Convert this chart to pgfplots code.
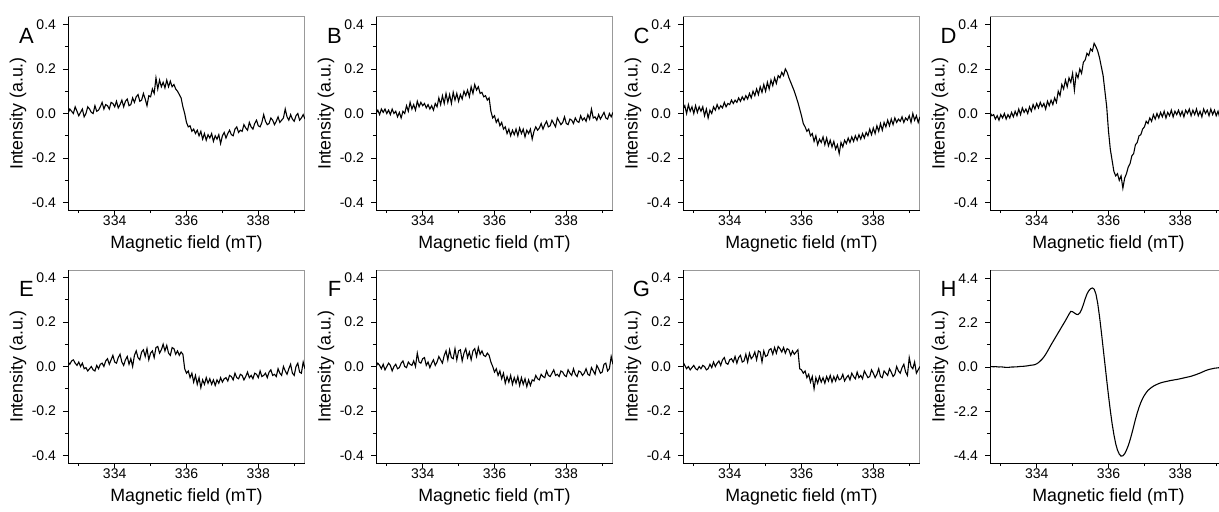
\documentclass[border=0pt]{standalone}
\usepackage{fontspec}
\setmainfont{Liberation Sans}
\usepackage{pgfplots}
\usepackage{pgfplotstable}
\pgfplotsset{compat=1.18}

% EPR spectra, panels A-H (field in mT)
\pgfplotstableread{
x A B C D E F G H
332.70 0.00 0.00 0.02 0.005 0.02 0.0 0.02 0.02
332.75 0.02 0.015 0.035 -0.01 0.01 0.015 0.005 0.02
332.80 0.01 -0.005 0.0 -0.005 0.025 0.005 -0.01 0.01
332.85 0.0 0.02 0.04 -0.025 0.03 -0.01 0.0 0.02
332.90 0.03 0.005 0.01 -0.01 0.015 0.01 -0.015 0.01
332.95 0.01 0.02 0.03 -0.03 0.005 -0.015 -0.005 0.0
333.00 -0.01 0.0 0.0 -0.005 0.02 0.0 0.005 0.01
333.05 0.005 0.015 0.035 -0.02 0.0 0.015 -0.01 0.0
333.10 0.02 -0.005 0.005 0.0 0.015 0.005 -0.015 -0.01
333.15 -0.015 0.02 0.03 -0.025 -0.01 -0.02 0.0 -0.02
333.20 0.00 0.0 0.01 -0.005 -0.005 0.0 -0.01 -0.02
333.25 0.03 0.01 0.03 -0.02 -0.02 0.01 0.005 -0.01
333.30 0.02 -0.015 -0.01 0.005 -0.01 -0.01 0.0 0.0
333.35 0.005 0.005 0.02 -0.015 0.0 -0.005 -0.015 0.0
333.40 0.0 -0.02 -0.02 0.01 -0.015 0.015 -0.01 0.01
333.45 0.035 0.01 0.015 -0.01 -0.02 0.025 0.01 0.01
333.50 0.01 0.0 0.0 0.02 0.005 0.0 -0.005 0.02
333.55 0.015 0.035 0.03 -0.005 -0.01 -0.005 0.02 0.03
333.60 0.03 0.01 0.015 0.025 0.01 0.02 0.0 0.03
333.65 0.05 0.05 0.04 0.005 0.015 0.01 0.015 0.04
333.70 0.02 0.02 0.02 0.02 0.0 0.005 0.025 0.05
333.75 0.04 0.04 0.035 0.0 0.025 0.025 0.005 0.06
333.80 0.035 0.015 0.025 0.03 0.035 0.0 0.03 0.08
333.85 0.02 0.055 0.05 0.01 0.01 0.06 0.04 0.09
333.90 0.05 0.03 0.03 0.04 0.03 0.02 0.015 0.10
333.95 0.045 0.05 0.045 0.02 0.05 0.015 0.01 0.12
334.00 0.03 0.035 0.04 0.045 0.02 0.035 0.03 0.16
334.05 0.055 0.045 0.06 0.025 0.015 0.04 0.035 0.22
334.10 0.025 0.025 0.045 0.05 0.04 0.005 0.02 0.30
334.15 0.04 0.04 0.06 0.03 0.055 0.02 0.045 0.39
334.20 0.06 0.02 0.05 0.045 0.02 -0.005 0.015 0.50
334.25 0.03 0.035 0.07 0.02 0.005 0.015 0.04 0.63
334.30 0.055 0.015 0.055 0.055 0.03 0.03 0.05 0.78
334.35 0.065 0.045 0.075 0.035 0.045 0.005 0.02 0.94
334.40 0.035 0.03 0.06 0.06 0.01 0.02 0.025 1.10
334.45 0.04 0.07 0.08 0.04 0.035 0.045 0.055 1.25
334.50 0.07 0.04 0.065 0.07 0.0 0.03 0.02 1.40
334.55 0.05 0.08 0.09 0.05 0.05 0.015 0.06 1.55
334.60 0.075 0.045 0.07 0.10 0.07 0.05 0.035 1.70
334.65 0.085 0.09 0.10 0.08 0.04 0.07 0.045 1.85
334.70 0.055 0.05 0.08 0.13 0.03 0.03 0.065 2.00
334.75 0.06 0.085 0.11 0.11 0.065 0.075 0.03 2.15
334.80 0.09 0.045 0.085 0.15 0.075 0.04 0.07 2.30
334.85 0.065 0.095 0.12 0.12 0.045 0.035 0.065 2.46
334.90 0.035 0.06 0.095 0.16 0.08 0.08 0.02 2.62
334.95 0.08 0.09 0.13 0.14 0.03 0.03 0.07 2.76
335.00 0.075 0.055 0.10 0.18 0.06 0.07 0.045 2.74
335.05 0.11 0.085 0.14 0.105 0.07 0.075 0.05 2.68
335.10 0.09 0.065 0.11 0.18 0.04 0.025 0.075 2.62
335.15 0.16 0.10 0.15 0.16 0.085 0.06 0.08 2.60
335.20 0.11 0.08 0.125 0.20 0.09 0.08 0.055 2.68
335.25 0.15 0.105 0.16 0.18 0.06 0.04 0.085 2.85
335.30 0.12 0.075 0.135 0.23 0.075 0.065 0.06 3.10
335.35 0.14 0.12 0.17 0.24 0.10 0.03 0.09 3.38
335.40 0.115 0.09 0.16 0.27 0.07 0.07 0.08 3.62
335.45 0.15 0.13 0.185 0.26 0.095 0.08 0.065 3.78
335.50 0.12 0.105 0.17 0.29 0.06 0.045 0.085 3.88
335.55 0.145 0.12 0.20 0.28 0.05 0.085 0.06 3.92
335.60 0.12 0.09 0.185 0.315 0.085 0.055 0.08 3.86
335.65 0.13 0.095 0.16 0.30 0.08 0.07 0.075 3.62
335.70 0.11 0.075 0.14 0.28 0.055 0.05 0.05 3.15
335.75 0.10 0.08 0.12 0.25 0.07 0.045 0.07 2.50
335.80 0.085 0.06 0.10 0.21 0.05 0.06 0.055 1.75
335.85 0.07 0.07 0.075 0.17 0.065 0.05 0.065 0.95
335.90 0.03 0.01 0.05 0.10 0.055 0.02 0.075 0.15
335.95 0.0 -0.02 0.02 0.03 -0.01 0.0 -0.01 -0.65
336.00 -0.04 -0.01 -0.01 -0.08 -0.03 -0.025 -0.015 -1.42
336.05 -0.06 -0.04 -0.045 -0.16 -0.02 -0.01 -0.03 -2.15
336.10 -0.055 -0.025 -0.06 -0.21 -0.05 -0.04 -0.02 -2.80
336.15 -0.08 -0.055 -0.08 -0.26 -0.03 -0.02 -0.05 -3.35
336.20 -0.07 -0.04 -0.07 -0.28 -0.07 -0.055 -0.035 -3.80
336.25 -0.09 -0.07 -0.10 -0.27 -0.04 -0.03 -0.07 -4.12
336.30 -0.075 -0.06 -0.09 -0.30 -0.08 -0.075 -0.045 -4.32
336.35 -0.10 -0.09 -0.125 -0.28 -0.05 -0.045 -0.10 -4.42
336.40 -0.08 -0.07 -0.10 -0.335 -0.095 -0.07 -0.05 -4.40
336.45 -0.115 -0.10 -0.14 -0.29 -0.06 -0.04 -0.075 -4.30
336.50 -0.09 -0.075 -0.115 -0.27 -0.08 -0.08 -0.045 -4.12
336.55 -0.12 -0.095 -0.13 -0.24 -0.05 -0.05 -0.07 -3.90
336.60 -0.095 -0.07 -0.105 -0.225 -0.075 -0.075 -0.05 -3.62
336.65 -0.11 -0.10 -0.14 -0.19 -0.055 -0.045 -0.075 -3.30
336.70 -0.09 -0.065 -0.11 -0.18 -0.08 -0.085 -0.045 -2.95
336.75 -0.125 -0.09 -0.145 -0.14 -0.06 -0.05 -0.065 -2.60
336.80 -0.10 -0.07 -0.12 -0.13 -0.085 -0.08 -0.04 -2.28
336.85 -0.115 -0.105 -0.15 -0.10 -0.06 -0.055 -0.07 -2.00
336.90 -0.095 -0.075 -0.125 -0.095 -0.075 -0.09 -0.045 -1.76
336.95 -0.135 -0.09 -0.16 -0.07 -0.05 -0.06 -0.065 -1.56
337.00 -0.10 -0.07 -0.14 -0.06 -0.07 -0.085 -0.04 -1.40
337.05 -0.085 -0.115 -0.18 -0.035 -0.055 -0.06 -0.06 -1.27
337.10 -0.11 -0.08 -0.13 -0.045 -0.05 -0.065 -0.055 -1.16
337.15 -0.09 -0.06 -0.15 -0.02 -0.065 -0.04 -0.035 -1.08
337.20 -0.075 -0.075 -0.12 -0.035 -0.04 -0.055 -0.065 -1.01
337.25 -0.095 -0.065 -0.135 -0.005 -0.045 -0.06 -0.05 -0.95
337.30 -0.10 -0.045 -0.11 -0.025 -0.06 -0.035 -0.04 -0.90
337.35 -0.07 -0.07 -0.13 0.0 -0.03 -0.045 -0.06 -0.86
337.40 -0.06 -0.05 -0.105 -0.02 -0.05 -0.05 -0.03 -0.82
337.45 -0.085 -0.035 -0.125 0.005 -0.055 -0.02 -0.045 -0.79
337.50 -0.075 -0.06 -0.10 -0.015 -0.035 -0.04 -0.055 -0.76
337.55 -0.08 -0.055 -0.12 0.01 -0.04 -0.045 -0.025 -0.74
337.60 -0.05 -0.03 -0.095 -0.02 -0.06 -0.03 -0.05 -0.72
337.65 -0.065 -0.045 -0.115 0.005 -0.045 -0.015 -0.04 -0.70
337.70 -0.075 -0.06 -0.09 -0.01 -0.025 -0.04 -0.055 -0.68
337.75 -0.04 -0.02 -0.11 0.015 -0.05 -0.035 -0.02 -0.66
337.80 -0.06 -0.035 -0.085 -0.015 -0.04 -0.045 -0.035 -0.65
337.85 -0.07 -0.05 -0.10 0.01 -0.055 -0.02 -0.05 -0.63
337.90 -0.045 -0.04 -0.07 -0.005 -0.03 -0.025 -0.045 -0.62
337.95 -0.03 -0.015 -0.095 0.015 -0.035 -0.04 -0.015 -0.60
338.00 -0.055 -0.045 -0.065 -0.01 -0.05 -0.045 -0.03 -0.58
338.05 -0.06 -0.05 -0.09 0.01 -0.02 -0.015 -0.05 -0.56
338.10 -0.04 -0.025 -0.055 -0.015 -0.045 -0.03 -0.035 -0.54
338.15 -0.005 -0.03 -0.08 0.015 -0.04 -0.04 -0.01 -0.52
338.20 -0.035 -0.045 -0.045 0.0 -0.03 -0.01 -0.045 -0.50
338.25 -0.05 -0.02 -0.075 0.02 -0.05 -0.035 -0.05 -0.48
338.30 -0.045 -0.035 -0.04 -0.01 -0.025 -0.045 -0.02 -0.46
338.35 -0.02 -0.04 -0.06 0.015 -0.015 -0.02 -0.03 -0.43
338.40 -0.03 -0.01 -0.03 -0.005 -0.04 -0.025 -0.04 -0.40
338.45 -0.05 -0.03 -0.055 0.02 -0.035 -0.04 -0.01 -0.37
338.50 -0.035 -0.02 -0.025 -0.01 -0.045 -0.03 -0.025 -0.33
338.55 -0.015 -0.035 -0.05 0.01 -0.01 -0.01 -0.045 -0.30
338.60 -0.04 -0.005 -0.02 -0.015 -0.03 -0.035 -0.035 -0.26
338.65 -0.03 -0.025 -0.04 0.02 -0.04 -0.04 0.0 -0.22
338.70 -0.02 0.02 -0.025 0.0 0.0 -0.005 -0.02 -0.18
338.75 0.02 -0.02 -0.035 0.015 -0.02 -0.02 -0.03 -0.15
338.80 -0.015 -0.015 -0.015 -0.01 -0.035 -0.035 -0.005 -0.12
338.85 -0.03 -0.03 -0.04 0.02 -0.01 0.005 0.01 -0.10
338.90 -0.005 -0.005 -0.02 -0.005 0.01 -0.01 -0.025 -0.08
338.95 -0.025 -0.025 -0.03 0.015 -0.03 -0.03 -0.04 -0.06
339.00 -0.035 -0.01 -0.01 -0.01 -0.04 -0.025 0.04 -0.05
339.05 -0.01 0.005 -0.04 0.01 0.0 0.01 0.0 -0.04
339.10 0.0 -0.02 0.0 -0.02 0.015 0.015 -0.01 -0.03
339.15 -0.03 -0.025 -0.03 0.005 -0.025 -0.02 0.02 -0.02
339.20 -0.02 0.0 -0.01 -0.01 -0.03 -0.01 -0.03 -0.02
339.25 -0.005 -0.015 -0.04 0.0 0.02 0.045 -0.015 -0.01
339.30 -0.025 0.005 -0.015 0.0 -0.01 0.01 0.0 -0.01
}\epr

\tikzset{
  trace/.style={black, line width=0.55pt},
  lett/.style={font=\fontsize{11}{13}\selectfont},
}

\pgfplotsset{
  epr/.style={
    scale only axis, width=118.5pt, height=96.5pt,
    anchor=south west,
    xmin=332.7, xmax=339.3,
    xtick={334,336,338}, minor xtick={333,335,337,339},
    xticklabels={334,336,338},
    tick pos=left, tick align=outside,
    major tick length=2.5pt, minor tick length=1.6pt,
    every tick/.style={black, line width=0.4pt},
    axis line style={draw=black!40, line width=0.5pt},
    tick label style={font=\fontsize{7}{8}\selectfont},
    xticklabel style={yshift=3pt},
    label style={font=\fontsize{8.9}{10}\selectfont},
    xlabel={Magnetic field (mT)}, ylabel={Intensity (a.u.)},
    xlabel style={at={(axis description cs:0.5,-0.2)}, anchor=base},
    ylabel style={at={(axis description cs:-0.211,0.5)}, anchor=center},
    clip mode=individual,
    after end axis/.code={\draw[black, line width=0.5pt] (rel axis cs:0,1) -- (rel axis cs:0,0) -- (rel axis cs:1,0);},
  },
  small/.style={epr, ymin=-0.433, ymax=0.433,
    ytick={-0.4,-0.2,0,0.2,0.4}, minor ytick={-0.3,-0.1,0.1,0.3},
    yticklabels={-0.4,-0.2,0.0,0.2,0.4}},
}

\begin{document}
\begin{tikzpicture}
\useasboundingbox (0,0) rectangle (609.5pt,255.5pt);

\begin{axis}[small, at={(34pt,150.5pt)}]
\addplot[trace] table[x=x,y=A]{\epr};
\node[lett] at (rel axis cs:-0.175,0.904) {A};
\end{axis}

\begin{axis}[small, at={(188pt,150.5pt)}]
\addplot[trace] table[x=x,y=B]{\epr};
\node[lett] at (rel axis cs:-0.175,0.904) {B};
\end{axis}

\begin{axis}[small, at={(341.5pt,150.5pt)}]
\addplot[trace] table[x=x,y=C]{\epr};
\node[lett] at (rel axis cs:-0.175,0.904) {C};
\end{axis}

\begin{axis}[small, at={(495pt,150.5pt)}]
\addplot[trace] table[x=x,y=D]{\epr};
\node[lett] at (rel axis cs:-0.175,0.904) {D};
\end{axis}

\begin{axis}[small, at={(34pt,24pt)}]
\addplot[trace] table[x=x,y=E]{\epr};
\node[lett] at (rel axis cs:-0.175,0.904) {E};
\end{axis}

\begin{axis}[small, at={(188pt,24pt)}]
\addplot[trace] table[x=x,y=F]{\epr};
\node[lett] at (rel axis cs:-0.175,0.904) {F};
\end{axis}

\begin{axis}[small, at={(341.5pt,24pt)}]
\addplot[trace] table[x=x,y=G]{\epr};
\node[lett] at (rel axis cs:-0.175,0.904) {G};
\end{axis}

\begin{axis}[epr, at={(495pt,24pt)},
  ymin=-4.76, ymax=4.81,
  ytick={-4.4,-2.2,0,2.2,4.4}, minor ytick={-3.3,-1.1,1.1,3.3},
  yticklabels={-4.4,-2.2,0.0,2.2,4.4}]
\addplot[trace] table[x=x,y=H]{\epr};
\node[lett] at (rel axis cs:-0.175,0.904) {H};
\end{axis}
\end{tikzpicture}
\end{document}
